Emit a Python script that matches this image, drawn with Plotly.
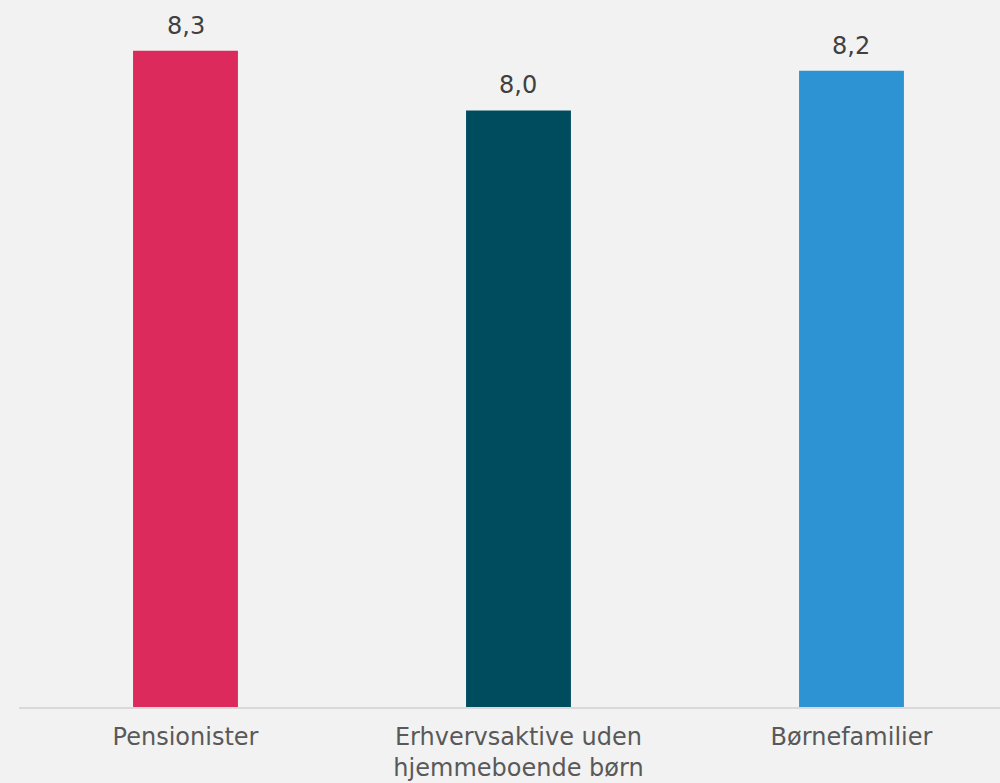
import plotly.graph_objects as go

categories = ["Pensionister", "Erhvervsaktive uden<br>hjemmeboende børn", "Børnefamilier"]
values = [8.3, 8.0, 8.2]
colors = ["#dc2a5c", "#004c5f", "#2e93d2"]

fig = go.Figure(
    go.Bar(
        x=list(range(len(categories))),
        y=values,
        marker=dict(color=colors, line=dict(width=0)),
        width=0.315,
        hoverinfo="skip",
    )
)

# value labels above each bar, decimal comma
for i, v in enumerate(values):
    fig.add_annotation(
        x=i,
        y=v,
        text=f"{v:.1f}".replace(".", ","),
        showarrow=False,
        yanchor="bottom",
        yshift=9,
        font=dict(family="DejaVu Sans", size=24, color="#404040"),
    )

fig.update_layout(
    width=1000,
    height=783,
    margin=dict(l=19, r=0, t=11, b=76),
    paper_bgcolor="#f2f2f2",
    plot_bgcolor="#f2f2f2",
    showlegend=False,
    font=dict(family="DejaVu Sans", color="#595959", size=24),
)
fig.update_xaxes(
    tickmode="array",
    tickvals=list(range(len(categories))),
    ticktext=categories,
    range=[-0.5, 2.446],
    automargin=False,
    showline=True,
    linecolor="#d9d9d9",
    linewidth=2,
    showgrid=False,
    zeroline=False,
    ticks="",
    ticklabelstandoff=7,
    tickfont=dict(family="DejaVu Sans", size=24, color="#595959"),
)
fig.update_yaxes(
    range=[5, 8.5],
    automargin=False,
    visible=False,
    showgrid=False,
    zeroline=False,
)

fig.write_html("out.html")
